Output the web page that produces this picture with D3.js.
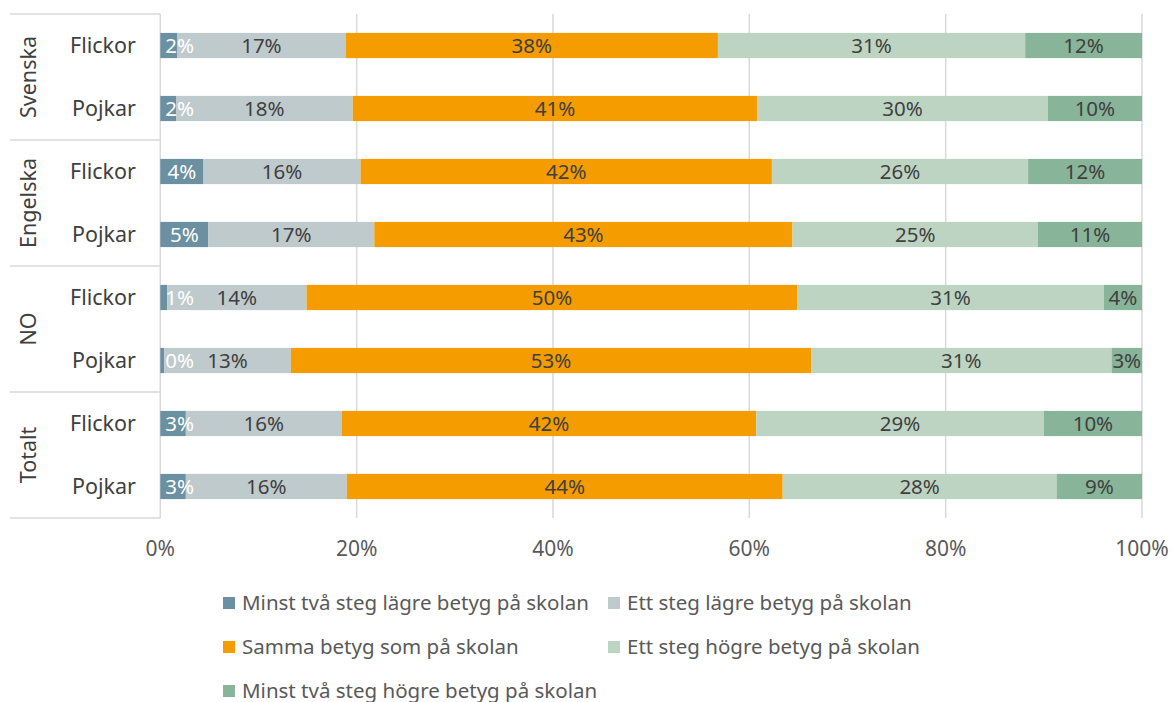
<!doctype html>
<html>
  <head>
    <meta charset="utf-8">
    <title>Betyg jämfört med skolan</title>
    <style>
      body { margin: 0; background: #fff; }
      svg { font-family: "Noto Sans", "Open Sans", sans-serif; }
      .grid line { stroke: #d9d9d9; stroke-width: 1.5; }
      .sep { stroke: #d9d9d9; stroke-width: 1.5; }
      .cat { fill: #404040; font-size: 21.5px; }
      .tick-label { fill: #595959; font-size: 21px; }
      .val { font-size: 20.5px; }
      .legend text { fill: #595959; font-size: 20.5px; }
    </style>
  </head>
  <body>
    <div id="chart"></div>
    <script src="https://cdn.jsdelivr.net/npm/d3@7"></script>
    <script>
      // rows top to bottom
      var groups = ['Svenska', 'Engelska', 'NO', 'Totalt'];
      var genders = ['Flickor', 'Pojkar'];

      var seriesNames = [
        'Minst två steg lägre betyg på skolan',
        'Ett steg lägre betyg på skolan',
        'Samma betyg som på skolan',
        'Ett steg högre betyg på skolan',
        'Minst två steg högre betyg på skolan'
      ];
      var seriesColors = ['#6a90a1', '#bfcacd', '#f59c00', '#bed4c3', '#88b499'];
      var labelColors = ['#ffffff', '#404040', '#404040', '#404040', '#404040'];

      // one array per series, 8 rows in order Svenska F, Svenska P, Engelska F, ...
      var minstTvaLagre  = [1.7, 1.6, 4.4, 4.9, 0.7, 0.4, 2.6, 2.6];
      var ettStegLagre   = [17.2, 18.0, 16.0, 16.9, 14.2, 12.9, 15.9, 16.4];
      var sammaBetyg     = [37.9, 41.2, 41.9, 42.6, 50.0, 53.0, 42.2, 44.4];
      var ettStegHogre   = [31.3, 29.6, 26.1, 25.0, 31.2, 30.6, 29.3, 27.9];
      var minstTvaHogre  = [11.9, 9.6, 11.6, 10.6, 3.9, 3.1, 10.0, 8.7];

      var xTicks = [0, 20, 40, 60, 80, 100];

      var series = [minstTvaLagre, ettStegLagre, sammaBetyg, ettStegHogre, minstTvaHogre];

      var rows = [];
      groups.forEach(function(g) {
        genders.forEach(function(s) { rows.push({ group: g, gender: s, id: g + '|' + s }); });
      });

      var width = 1175, height = 702;
      var plotLeft = 160.3, plotRight = 1142, plotTop = 14, plotBottom = 518;

      var svg = d3.select('#chart').append('svg')
        .attr('width', width)
        .attr('height', height);

      var x = d3.scaleLinear().domain([0, 100]).range([plotLeft, plotRight]);
      var y = d3.scaleBand()
        .domain(rows.map(function(r) { return r.id; }))
        .range([plotTop, plotBottom])
        .paddingInner(0.6)
        .paddingOuter(0.3);
      var groupY = d3.scaleBand().domain(groups).range([plotTop, plotBottom]);

      // gridlines
      svg.append('g').attr('class', 'grid')
        .selectAll('line').data(xTicks).enter()
        .append('line')
        .attr('x1', function(d) { return x(d); })
        .attr('x2', function(d) { return x(d); })
        .attr('y1', plotTop)
        .attr('y2', plotBottom);

      // group separators on the left
      svg.append('g')
        .selectAll('line').data(groups.concat(['end'])).enter()
        .append('line')
        .attr('class', 'sep')
        .attr('x1', 10)
        .attr('x2', plotLeft)
        .attr('y1', function(d, i) { return plotTop + i * groupY.step(); })
        .attr('y2', function(d, i) { return plotTop + i * groupY.step(); });

      // group names, rotated
      svg.append('g')
        .selectAll('text').data(groups).enter()
        .append('text')
        .attr('class', 'cat')
        .attr('text-anchor', 'middle')
        .attr('transform', function(d) {
          return 'translate(36,' + (groupY(d) + groupY.bandwidth() / 2) + ') rotate(-90)';
        })
        .text(function(d) { return d; });

      // gender labels
      svg.append('g')
        .selectAll('text').data(rows).enter()
        .append('text')
        .attr('class', 'cat')
        .attr('text-anchor', 'end')
        .attr('x', 136)
        .attr('y', function(d) { return y(d.id) + y.bandwidth() / 2; })
        .attr('dy', '0.35em')
        .text(function(d) { return d.gender; });

      // stack
      var table = rows.map(function(r, i) {
        var o = { id: r.id };
        series.forEach(function(s, k) { o['s' + k] = s[i]; });
        return o;
      });
      var keys = series.map(function(s, k) { return 's' + k; });
      var stacked = d3.stack().keys(keys).offset(d3.stackOffsetExpand)(table);

      var layers = svg.append('g').selectAll('g').data(stacked).enter()
        .append('g')
        .attr('fill', function(d, k) { return seriesColors[k]; });

      layers.selectAll('rect').data(function(d) { return d; }).enter()
        .append('rect')
        .attr('x', function(d) { return x(d[0] * 100); })
        .attr('width', function(d) { return x(d[1] * 100) - x(d[0] * 100); })
        .attr('y', function(d) { return y(d.data.id); })
        .attr('height', y.bandwidth());

      // value labels
      stacked.forEach(function(layer, k) {
        svg.append('g').selectAll('text').data(layer).enter()
          .append('text')
          .attr('class', 'val')
          .attr('fill', labelColors[k])
          .attr('text-anchor', 'middle')
          .attr('y', function(d) { return y(d.data.id) + y.bandwidth() / 2; })
          .attr('dy', '0.36em')
          .text(function(d) { return Math.round(d.data['s' + k]) + '%'; })
          .attr('x', function(d) {
            var c = (x(d[0] * 100) + x(d[1] * 100)) / 2;
            var w = this.getComputedTextLength();
            return Math.max(c, plotLeft + 5 + w / 2);
          });
      });

      // x tick labels
      svg.append('g')
        .selectAll('text').data(xTicks).enter()
        .append('text')
        .attr('class', 'tick-label')
        .attr('text-anchor', 'middle')
        .attr('x', function(d) { return x(d); })
        .attr('y', 549)
        .attr('dy', '0.35em')
        .text(function(d) { return d + '%'; });

      // legend
      var legendPos = [[223, 603], [608, 603], [223, 647], [608, 647], [223, 691]];
      var legend = svg.append('g').attr('class', 'legend')
        .selectAll('g').data(seriesNames).enter()
        .append('g')
        .attr('transform', function(d, i) { return 'translate(' + legendPos[i][0] + ',' + legendPos[i][1] + ')'; });
      legend.append('rect')
        .attr('x', 0).attr('y', -6)
        .attr('width', 12).attr('height', 12)
        .attr('fill', function(d, i) { return seriesColors[i]; });
      legend.append('text')
        .attr('x', 19)
        .attr('dy', '0.35em')
        .text(function(d) { return d; });
    </script>
  </body>
</html>
